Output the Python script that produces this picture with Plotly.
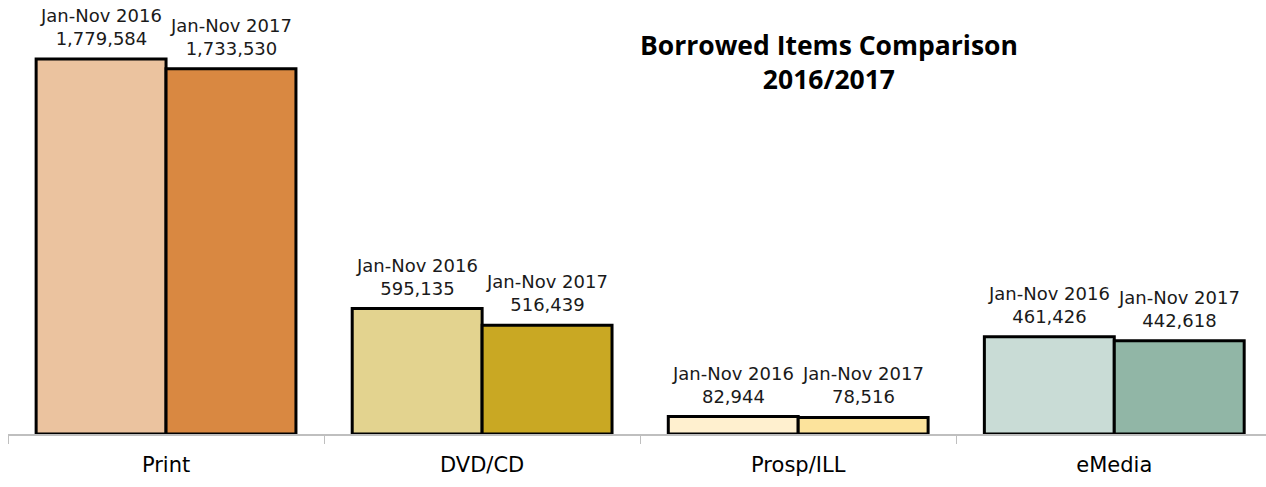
import plotly.graph_objects as go

categories = ["Print", "DVD/CD", "Prosp/ILL", "eMedia"]
series_names = ["Jan-Nov 2016", "Jan-Nov 2017"]
values_2016 = [1779584, 595135, 82944, 461426]
values_2017 = [1733530, 516439, 78516, 442618]
colors_2016 = ["#EBC39F", "#E3D38F", "#FFF0CF", "#C9DCD6"]
colors_2017 = ["#D98841", "#C9A823", "#FCE39C", "#91B6A6"]
title_lines = ["Borrowed Items Comparison", "2016/2017"]

label_font = dict(family="DejaVu Sans", size=18, color="#1a1a1a")

fig = go.Figure()
annotations = []
for name, vals, cols, shift in [(series_names[0], values_2016, colors_2016, -65),
                                (series_names[1], values_2017, colors_2017, 65)]:
    fig.add_trace(go.Bar(
        x=categories, y=vals, name=name,
        marker=dict(color=cols, line=dict(color="black", width=3)),
        cliponaxis=False,
        hoverinfo="skip",
    ))
    for c, v in zip(categories, vals):
        annotations.append(dict(
            x=c, y=v, xref="x", yref="y", xshift=shift, yshift=8,
            xanchor="center", yanchor="bottom", showarrow=False,
            text=f"{name}<br>{v:,}", font=label_font,
        ))

annotations.append(dict(
    text="<b>" + "<br>".join(title_lines) + "</b>",
    x=0.6526, y=0.942, xref="paper", yref="paper",
    xanchor="center", yanchor="top", showarrow=False,
    font=dict(family="Open Sans", size=26.5, color="black"),
))

fig.update_layout(
    width=1266, height=487,
    margin=dict(l=8, r=0, t=0, b=53),
    barmode="group", bargap=0.178, bargroupgap=0,
    plot_bgcolor="white", paper_bgcolor="white",
    showlegend=False,
    annotations=annotations,
)
fig.update_xaxes(
    range=[-0.5, 3.48],
    showline=True, linecolor="#BFBFBF", linewidth=1.5,
    ticks="outside", tickson="boundaries", ticklen=8, tickcolor="#BFBFBF",
    tickfont=dict(family="DejaVu Sans", size=21, color="black"),
    ticklabelstandoff=11,
    showgrid=False,
)
fig.update_yaxes(range=[0, 2059600], visible=False, showgrid=False)

fig.write_html("out.html", config={"displayModeBar": False},
               post_script="document.body.style.margin='0';document.body.style.overflow='hidden';")
